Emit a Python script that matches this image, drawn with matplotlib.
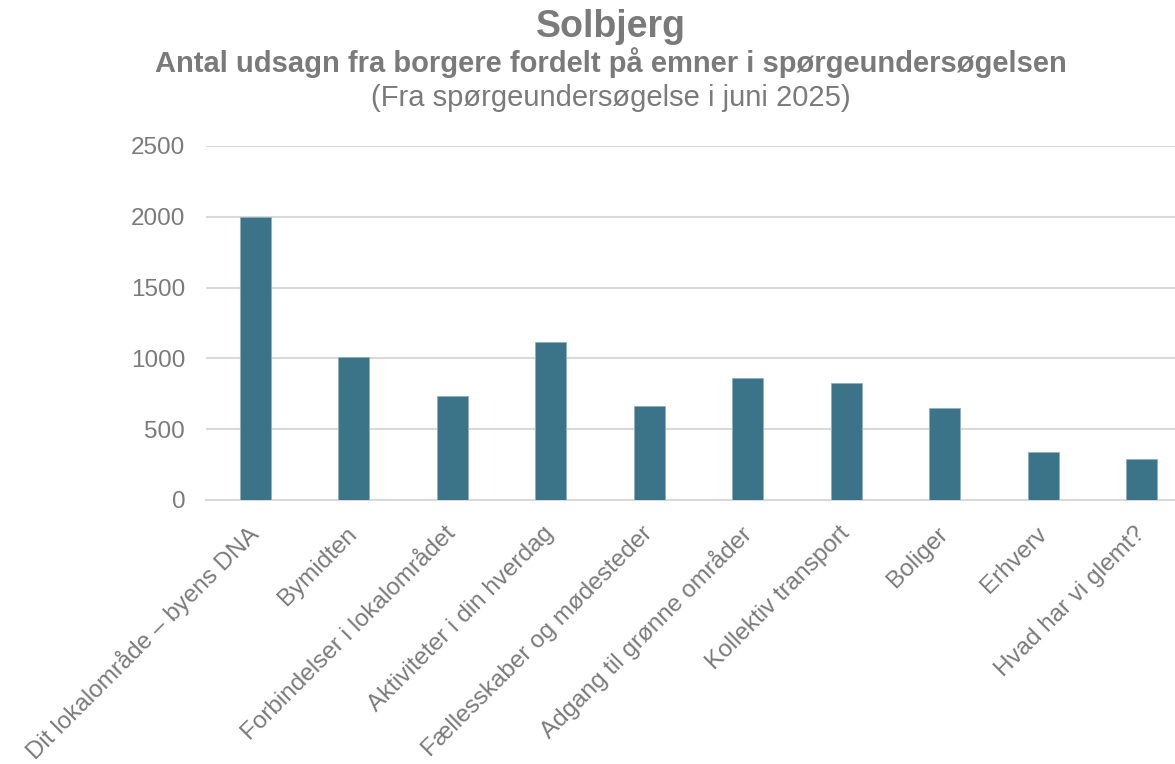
import matplotlib
matplotlib.use("Agg")
import matplotlib.pyplot as plt

categories = [
    "Dit lokalområde – byens DNA",
    "Bymidten",
    "Forbindelser i lokalområdet",
    "Aktiviteter i din hverdag",
    "Fællesskaber og mødesteder",
    "Adgang til grønne områder",
    "Kollektiv transport",
    "Boliger",
    "Erhverv",
    "Hvad har vi glemt?",
]
values = [2000, 1008, 737, 1114, 662, 859, 824, 647, 339, 290]
yticks = [0, 500, 1000, 1500, 2000, 2500]

title = "Solbjerg"
subtitle = "Antal udsagn fra borgere fordelt på emner i spørgeundersøgelsen"
subsub = "(Fra spørgeundersøgelse i juni 2025)"

plt.rcParams['font.family'] = ['Liberation Sans', 'DejaVu Sans']

W, H = 1175, 764
fig = plt.figure(figsize=(W / 100, H / 100), dpi=100)
left_px, right_px, top_px, bottom_px = 206, 1175, 146, 500
ax = fig.add_axes([left_px / W, 1 - bottom_px / H,
                   (right_px - left_px) / W, (bottom_px - top_px) / H])

bar_color = "#3B7488"
text_color = "#7A7A7A"
grid_color = "#D9D9D9"

x = list(range(len(categories)))
ax.bar(x, values, width=0.315, color=bar_color, edgecolor="#8FB0BD",
       linewidth=0.6, zorder=3)

step_px = 98.5
ax.set_xlim(-0.5, -0.5 + (right_px - left_px) / step_px)
ax.set_ylim(0, 2500)
ax.set_yticks(yticks)
ax.set_yticklabels([str(v) for v in yticks])
ax.grid(axis="y", color=grid_color, linewidth=1.5, zorder=0)
ax.set_axisbelow(True)
for s in ["top", "right", "left"]:
    ax.spines[s].set_visible(False)
ax.spines["bottom"].set_color(grid_color)
ax.spines["bottom"].set_linewidth(1.5)
ax.spines["bottom"].set_zorder(1)

ax.tick_params(axis="y", length=0, pad=15, labelsize=17.5, labelcolor=text_color)
ax.tick_params(axis="x", length=0, pad=22, labelsize=17.5, labelcolor=text_color)
ax.set_xticks(x)
ax.set_xticklabels(categories, rotation=45, ha="right", va="center",
                   rotation_mode="anchor")

cx = 611 / W
fig.text(cx, 1 - 27 / H, title, ha="center", va="center", fontsize=27,
         fontweight="bold", color=text_color)
fig.text(cx, 1 - 63 / H, subtitle, ha="center", va="center", fontsize=21,
         fontweight="bold", color=text_color)
fig.text(cx, 1 - 98 / H, subsub, ha="center", va="center", fontsize=21,
         color=text_color)

fig.savefig("out.png", dpi=100)
